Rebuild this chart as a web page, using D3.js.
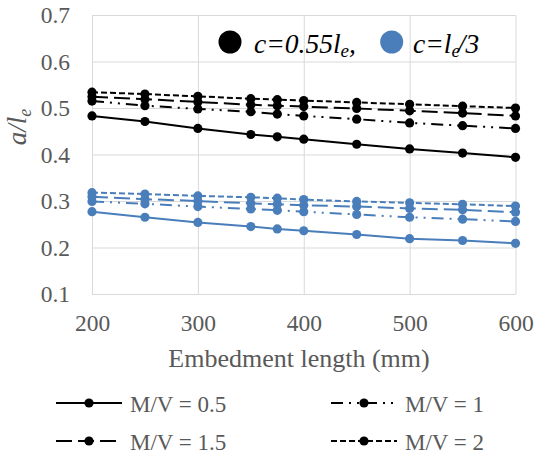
<!DOCTYPE html>
<html>
<head>
<meta charset="utf-8">
<script src="https://cdn.jsdelivr.net/npm/d3@7/dist/d3.min.js"></script>
<style>
  html, body { margin: 0; padding: 0; background: #fff; }
  svg { display: block; }
</style>
</head>
<body>
<svg id="chart" width="536" height="450"></svg>
<script>
// ---------- data ----------
const embedmentLength = [200, 250, 300, 350, 375, 400, 450, 500, 550, 600];
const xTicks = [200, 300, 400, 500, 600];
const yTicks = [0.1, 0.2, 0.3, 0.4, 0.5, 0.6, 0.7];
const mvLabels = ["M/V = 0.5", "M/V = 1", "M/V = 1.5", "M/V = 2"];

// c = 0.55 le (black)
const c055_mv05 = [0.483, 0.471, 0.456, 0.443, 0.438, 0.433, 0.422, 0.412, 0.403, 0.394];
const c055_mv1  = [0.515, 0.505, 0.498, 0.492, 0.487, 0.483, 0.476, 0.468, 0.462, 0.456];
const c055_mv15 = [0.524, 0.519, 0.513, 0.507, 0.505, 0.503, 0.499, 0.494, 0.489, 0.483];
const c055_mv2  = [0.534, 0.530, 0.525, 0.520, 0.518, 0.516, 0.512, 0.508, 0.504, 0.500];

// c = le / 3 (blue)
const c3_mv05 = [0.277, 0.265, 0.254, 0.245, 0.240, 0.236, 0.228, 0.219, 0.215, 0.209];
const c3_mv1  = [0.299, 0.294, 0.288, 0.283, 0.280, 0.277, 0.271, 0.265, 0.261, 0.256];
const c3_mv15 = [0.309, 0.304, 0.300, 0.295, 0.293, 0.291, 0.288, 0.284, 0.281, 0.276];
const c3_mv2  = [0.318, 0.315, 0.311, 0.308, 0.306, 0.303, 0.299, 0.296, 0.293, 0.289];

// ---------- styles ----------
const BLACK = "#000000";
const BLUE = "#4a7ebb";
const dashes = ["none", "12,6,2,6,2,6", "16,6", "6,3"];

const series = [
  { values: c055_mv05, color: BLACK, dash: dashes[0] },
  { values: c055_mv1,  color: BLACK, dash: dashes[1] },
  { values: c055_mv15, color: BLACK, dash: dashes[2] },
  { values: c055_mv2,  color: BLACK, dash: dashes[3] },
  { values: c3_mv05, color: BLUE, dash: dashes[0] },
  { values: c3_mv1,  color: BLUE, dash: dashes[1] },
  { values: c3_mv15, color: BLUE, dash: dashes[2] },
  { values: c3_mv2,  color: BLUE, dash: dashes[3] }
];

const svg = d3.select("#chart");
const pLeft = 92, pRight = 515.5, pTop = 15, pBottom = 294;
const x = d3.scaleLinear().domain([200, 600]).range([pLeft, pRight]);
const y = d3.scaleLinear().domain([0.1, 0.7]).range([pBottom, pTop]);

const FONT = '"Liberation Serif"';
const GRAY = "#595959";
const GRID = "#d9d9d9";

// gridlines
const gH = svg.append("g").attr("transform", `translate(${pLeft},0)`)
  .call(d3.axisLeft(y).tickValues(yTicks).tickSize(-(pRight - pLeft)).tickFormat(""));
gH.select(".domain").remove();
gH.selectAll("line").attr("stroke", GRID).attr("stroke-width", 1);

const gV = svg.append("g").attr("transform", `translate(0,${pBottom})`)
  .call(d3.axisBottom(x).tickValues(xTicks).tickSize(-(pBottom - pTop)).tickFormat(""));
gV.select(".domain").remove();
gV.selectAll("line").attr("stroke", GRID).attr("stroke-width", 1);

// tick labels
const yAx = svg.append("g").attr("transform", `translate(${pLeft},0)`)
  .call(d3.axisLeft(y).tickValues(yTicks).tickSize(0).tickPadding(22).tickFormat(d3.format(".1f")));
yAx.select(".domain").remove();
yAx.attr("font-family", null).attr("font-size", null);
yAx.selectAll("text").style("font-family", FONT).style("font-size", "23.5px").attr("fill", GRAY);

const xAx = svg.append("g").attr("transform", `translate(0,${pBottom})`)
  .call(d3.axisBottom(x).tickValues(xTicks).tickSize(0).tickPadding(20).tickFormat(d3.format("d")));
xAx.select(".domain").attr("stroke", GRID);
xAx.attr("font-family", null).attr("font-size", null);
xAx.selectAll("text").style("font-family", FONT).style("font-size", "23.5px").attr("fill", GRAY);

// lines
const line = d3.line().x((d, i) => x(embedmentLength[i])).y(d => y(d));
const plot = svg.append("g");
series.forEach(s => {
  plot.append("path").datum(s.values)
    .attr("d", line)
    .attr("fill", "none")
    .attr("stroke", s.color)
    .attr("stroke-width", 2)
    .attr("stroke-dasharray", s.dash);
  plot.selectAll(null).data(s.values).enter().append("circle")
    .attr("cx", (d, i) => x(embedmentLength[i]))
    .attr("cy", d => y(d))
    .attr("r", 4.6)
    .attr("fill", s.color);
});

// axis titles
svg.append("text")
  .attr("x", 299).attr("y", 367)
  .attr("text-anchor", "middle")
  .style("font-family", FONT).style("font-size", "26px").attr("fill", GRAY)
  .text("Embedment length (mm)");

const yt = svg.append("text")
  .attr("transform", "translate(26,127) rotate(-90)")
  .attr("text-anchor", "middle")
  .style("font-family", FONT).style("font-size", "27px").style("font-style", "italic").attr("fill", GRAY);
yt.append("tspan").text("a/l");
yt.append("tspan").style("font-size", "18px").attr("dy", 5).text("e");

// top legend
svg.append("circle").attr("cx", 230).attr("cy", 42).attr("r", 11.5).attr("fill", BLACK);
const t1 = svg.append("text").attr("x", 254).attr("y", 53)
  .style("font-family", FONT).style("font-size", "27.5px").style("font-style", "italic").attr("fill", BLACK);
t1.append("tspan").text("c=0.55l");
t1.append("tspan").style("font-size", "19px").attr("dy", 4).text("e");
t1.append("tspan").attr("dy", -4).text(",");

svg.append("circle").attr("cx", 391.7).attr("cy", 42).attr("r", 11.5).attr("fill", BLUE);
const t2 = svg.append("text").attr("x", 413).attr("y", 53)
  .style("font-family", FONT).style("font-size", "27.5px").style("font-style", "italic").attr("fill", BLACK);
t2.append("tspan").text("c=l");
t2.append("tspan").style("font-size", "19px").attr("dy", 4).text("e");
t2.append("tspan").attr("dy", -4).attr("dx", -2).text("/3");

// bottom legend
const legPos = [
  { lx: 56, ly: 403 }, { lx: 331, ly: 403 },
  { lx: 56, ly: 441 }, { lx: 331, ly: 441 }
];
legPos.forEach((p, i) => {
  const g = svg.append("g");
  g.append("line").attr("x1", p.lx).attr("x2", p.lx + 66).attr("y1", p.ly).attr("y2", p.ly)
    .attr("stroke", BLACK).attr("stroke-width", 2).attr("stroke-dasharray", dashes[i]);
  g.append("circle").attr("cx", p.lx + 33).attr("cy", p.ly).attr("r", 4.6).attr("fill", BLACK);
  g.append("text").attr("x", p.lx + 74).attr("y", p.ly + 8.5)
    .style("font-family", FONT).style("font-size", "23px").attr("fill", GRAY)
    .text(mvLabels[i]);
});
</script>
</body>
</html>
